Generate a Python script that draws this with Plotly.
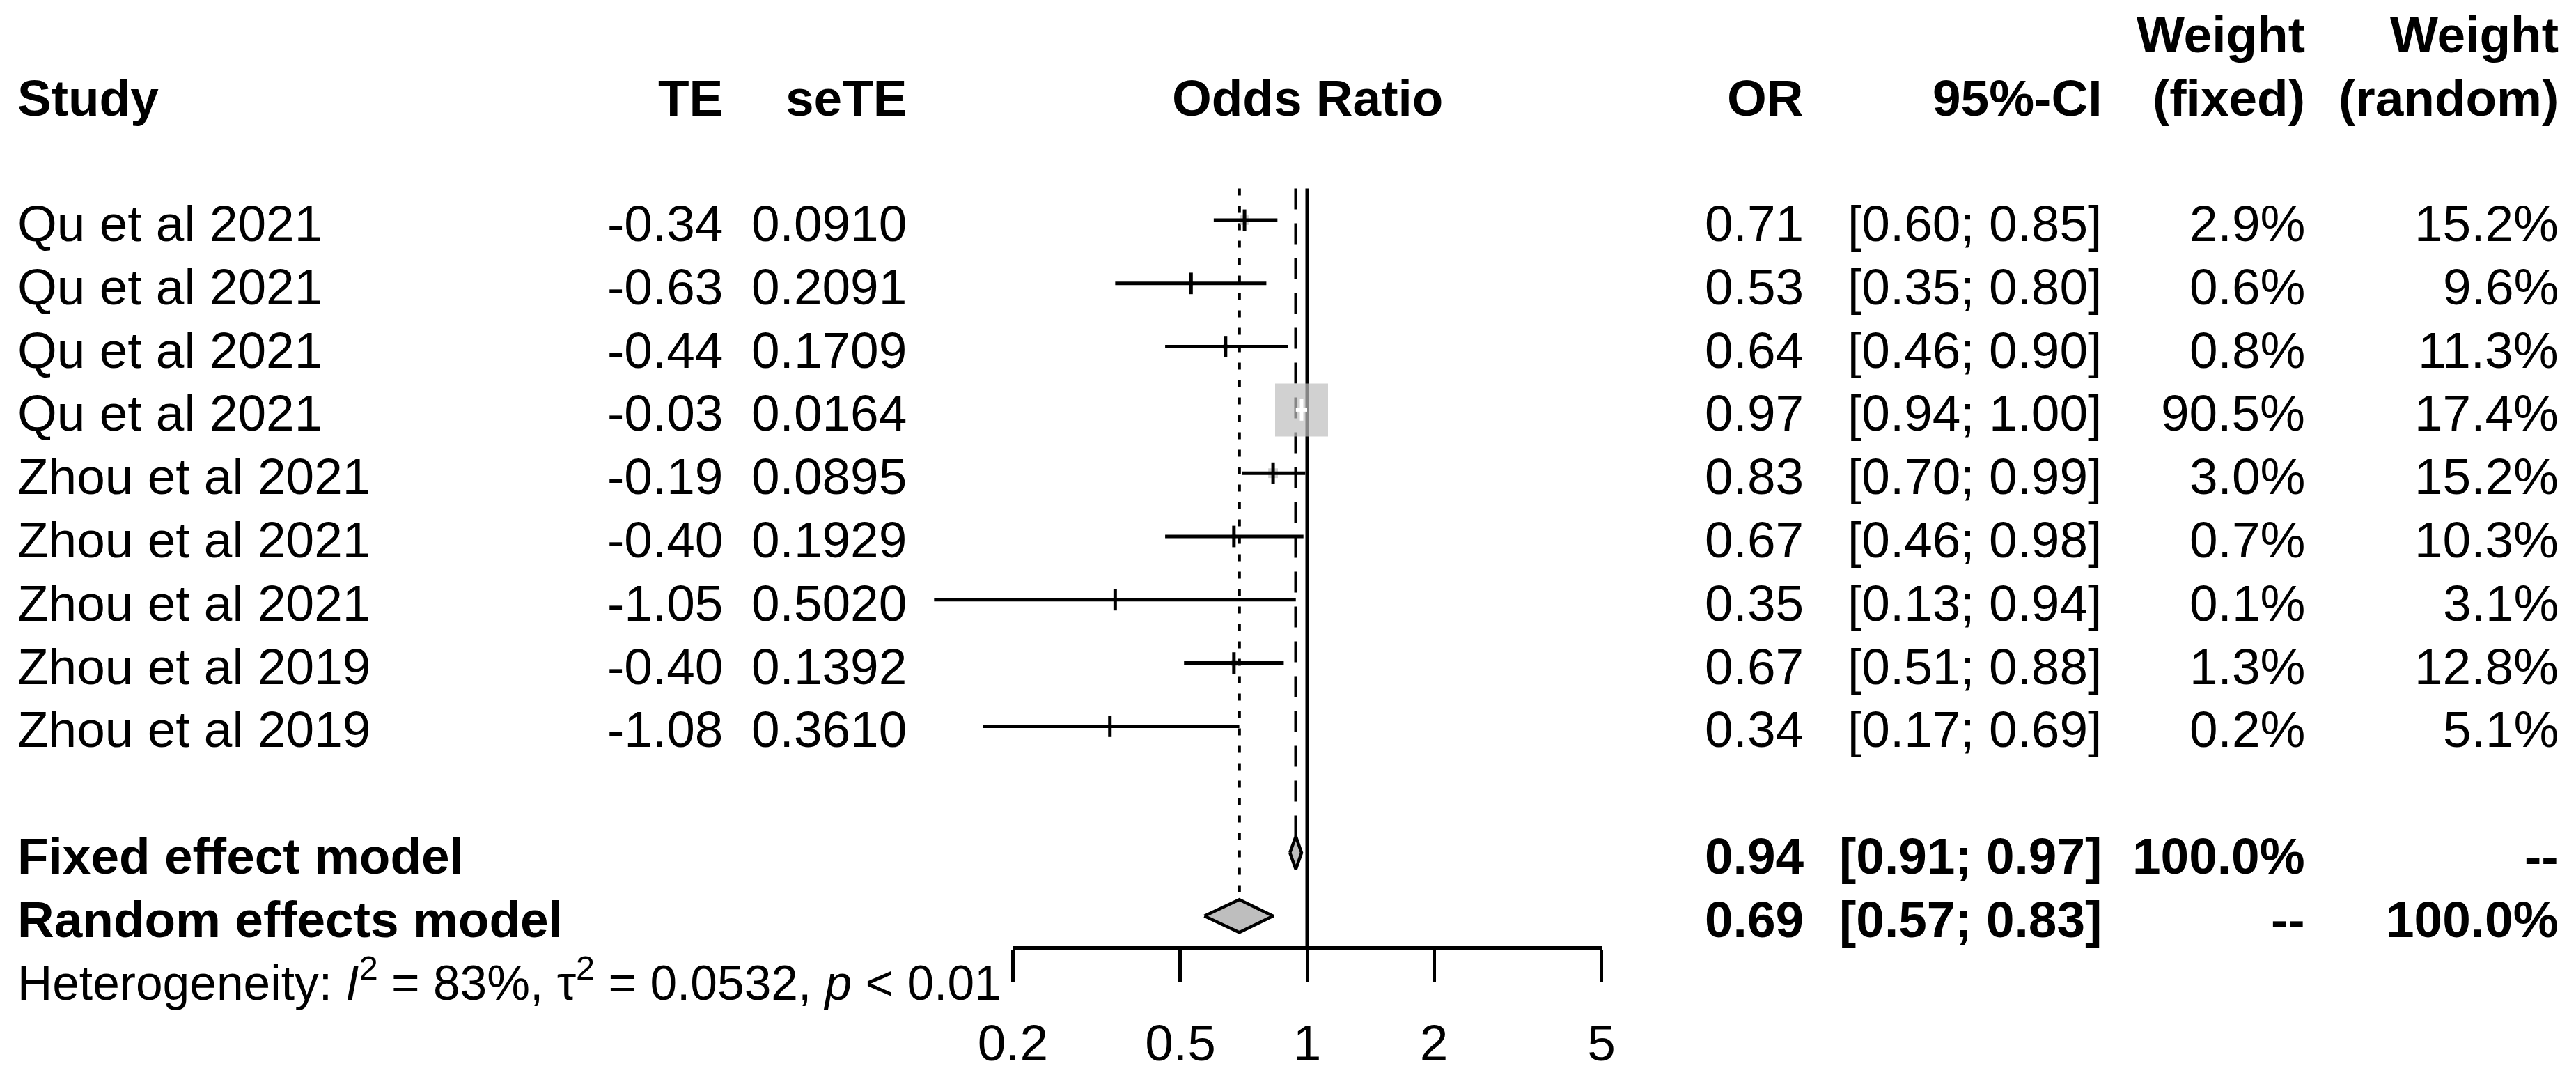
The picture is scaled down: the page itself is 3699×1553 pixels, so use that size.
import math
import plotly.graph_objects as go

# ---------------- data ----------------
studies = ["Qu et al 2021", "Qu et al 2021", "Qu et al 2021", "Qu et al 2021",
           "Zhou et al 2021", "Zhou et al 2021", "Zhou et al 2021",
           "Zhou et al 2019", "Zhou et al 2019"]
te = [-0.34, -0.63, -0.44, -0.03, -0.19, -0.40, -1.05, -0.40, -1.08]
se_te = [0.0910, 0.2091, 0.1709, 0.0164, 0.0895, 0.1929, 0.5020, 0.1392, 0.3610]
odds_ratio = [0.71, 0.53, 0.64, 0.97, 0.83, 0.67, 0.35, 0.67, 0.34]
ci_low = [0.60, 0.35, 0.46, 0.94, 0.70, 0.46, 0.13, 0.51, 0.17]
ci_high = [0.85, 0.80, 0.90, 1.00, 0.99, 0.98, 0.94, 0.88, 0.69]
weight_fixed = [2.9, 0.6, 0.8, 90.5, 3.0, 0.7, 0.1, 1.3, 0.2]
weight_random = [15.2, 9.6, 11.3, 17.4, 15.2, 10.3, 3.1, 12.8, 5.1]

model_names = ["Fixed effect model", "Random effects model"]
model_or = [0.94, 0.69]
model_low = [0.91, 0.57]
model_high = [0.97, 0.83]
model_w_fixed = ["100.0%", "--"]
model_w_random = ["--", "100.0%"]

tick_vals = [0.2, 0.5, 1, 2, 5]
tick_text = ["0.2", "0.5", "1", "2", "5"]

hetero_text = ("Heterogeneity: <i>I</i><sup>2</sup> = 83%, τ<sup>2</sup> = 0.0532, "
               "<i>p</i> &lt; 0.01")

# ---------------- layout constants ----------------
W, H = 3699, 1553
PX_ONE = 1877.0       # pixel x of OR = 1
PX_DEC = 604.6        # pixels per decade
ROW0 = 316.0          # pixel y of first study row
ROWH = 90.8           # pixels per row
FONT = "Liberation Sans, Arial, Helvetica, sans-serif"
FS = 73
FS_HET = 69.5
GREY = "#bebebe"
TXT_DY = 0.05         # small downward shift of text relative to marks
LW = 5

n = len(studies)
rows = list(range(n))
model_rows = [n + 1, n + 2]
axis_row = n + 2.5

def xp(px):
    return px / W

fig = go.Figure()

# reference lines
fig.add_trace(go.Scatter(x=[1, 1], y=[-0.5, axis_row], mode="lines",
                         line=dict(color="black", width=LW), hoverinfo="skip"))
dh = 24.0 / ROWH
fig.add_trace(go.Scatter(x=[model_or[0], model_or[0]], y=[-0.5, model_rows[0] - dh],
                         mode="lines", line=dict(color="black", width=4.5, dash="30px,20px"),
                         hoverinfo="skip"))
fig.add_trace(go.Scatter(x=[model_or[1], model_or[1]], y=[-0.5, model_rows[1] - dh],
                         mode="lines", line=dict(color="black", width=4.5, dash="10px,15px"),
                         hoverinfo="skip"))

# squares (side proportional to sqrt of fixed weight)
wmax = max(weight_fixed)
sizes = [76.0 * math.sqrt(w / wmax) for w in weight_fixed]
fig.add_trace(go.Scatter(x=odds_ratio, y=rows, mode="markers",
                         marker=dict(symbol="square", size=sizes, color=GREY,
                                     line=dict(width=0)),
                         hoverinfo="skip"))

# CI lines and estimate ticks
line_cols = []
for lo, hi, s in zip(ci_low, ci_high, sizes):
    span = (math.log10(hi) - math.log10(lo)) * PX_DEC
    line_cols.append("white" if span < s else "black")

for col in ["black", "white"]:
    xs, ys = [], []
    for i in rows:
        if line_cols[i] == col:
            xs += [ci_low[i], ci_high[i], None]
            ys += [i, i, None]
    if xs:
        fig.add_trace(go.Scatter(x=xs, y=ys, mode="lines",
                                 line=dict(color=col, width=LW), hoverinfo="skip"))

fig.add_trace(go.Scatter(x=odds_ratio, y=rows, mode="markers",
                         marker=dict(symbol="line-ns-open", size=22, color=line_cols,
                                     line=dict(width=LW, color=line_cols)),
                         hoverinfo="skip"))

# diamonds
for k in range(2):
    r = model_rows[k]
    h = 23.5 / ROWH
    fig.add_trace(go.Scatter(
        x=[model_low[k], model_or[k], model_high[k], model_or[k], model_low[k]],
        y=[r, r - h, r, r + h, r], mode="lines", fill="toself",
        fillcolor=GREY, line=dict(color="black", width=4.5), hoverinfo="skip"))

# invisible trace so the tick axis gets its subplot
fig.add_trace(go.Scatter(x=[1], y=[100], xaxis="x2", yaxis="y", mode="markers",
                         marker=dict(opacity=0), hoverinfo="skip"))

# ---------------- text ----------------
ann = []
def add(text, xpx, row, anchor, bold=False, size=FS):
    ann.append(dict(text=f"<b>{text}</b>" if bold else text, x=xp(xpx), xref="paper",
                    y=row + TXT_DY, yref="y", xanchor=anchor, yanchor="middle",
                    showarrow=False, font=dict(family=FONT, size=size, color="black")))

X_STUDY, X_TE, X_SE, X_OR, X_CI, X_WF, X_WR = 23, 1040, 1304, 2592, 3020, 3312, 3676
HDR = -1.98
HDR0 = -2.98

add("Study", X_STUDY, HDR, "left", True)
add("TE", X_TE, HDR, "right", True)
add("seTE", X_SE, HDR, "right", True)
ann.append(dict(text="<b>Odds Ratio</b>", x=math.log10(1), xref="x", y=HDR + TXT_DY,
                yref="y", xanchor="center", yanchor="middle", showarrow=False,
                font=dict(family=FONT, size=FS, color="black")))
add("OR", X_OR, HDR, "right", True)
add("95%-CI", X_CI, HDR, "right", True)
add("Weight", X_WF, HDR0, "right", True)
add("(fixed)", X_WF, HDR, "right", True)
add("Weight", X_WR, HDR0, "right", True)
add("(random)", X_WR, HDR, "right", True)

for i in rows:
    add(studies[i], X_STUDY, i, "left")
    add(f"{te[i]:.2f}", X_TE, i, "right")
    add(f"{se_te[i]:.4f}", X_SE, i, "right")
    add(f"{odds_ratio[i]:.2f}", X_OR, i, "right")
    add(f"[{ci_low[i]:.2f}; {ci_high[i]:.2f}]", X_CI, i, "right")
    add(f"{weight_fixed[i]:.1f}%", X_WF, i, "right")
    add(f"{weight_random[i]:.1f}%", X_WR, i, "right")

for k in range(2):
    r = model_rows[k]
    add(model_names[k], X_STUDY, r, "left", True)
    add(f"{model_or[k]:.2f}", X_OR, r, "right", True)
    add(f"[{model_low[k]:.2f}; {model_high[k]:.2f}]", X_CI, r, "right", True)
    add(model_w_fixed[k], X_WF, r, "right", True)
    add(model_w_random[k], X_WR, r, "right", True)

add(hetero_text, X_STUDY, n + 2.95, "left", False, FS_HET)

# ---------------- axes ----------------
lo_log = math.log10(min(tick_vals))
hi_log = math.log10(max(tick_vals))
fig.update_layout(
    width=W, height=H,
    margin=dict(l=0, r=0, t=0, b=0, pad=0, autoexpand=False),
    paper_bgcolor="white", plot_bgcolor="rgba(0,0,0,0)", showlegend=False,
    annotations=ann,
    xaxis=dict(type="log", domain=[0, 1],
               range=[-PX_ONE / PX_DEC, (W - PX_ONE) / PX_DEC], visible=False),
    yaxis=dict(range=[(H - ROW0) / ROWH, -ROW0 / ROWH], visible=False),
    xaxis2=dict(type="log", anchor="free", side="bottom",
                position=1 - (ROW0 + axis_row * ROWH) / H,
                domain=[xp(PX_ONE + PX_DEC * lo_log), xp(PX_ONE + PX_DEC * hi_log)],
                range=[lo_log, hi_log], showline=True, linewidth=4.5, linecolor="black",
                ticks="outside", ticklen=46, tickwidth=4.5, tickcolor="black",
                tickvals=tick_vals, ticktext=tick_text, showgrid=False, zeroline=False,
                ticklabelstandoff=25,
                tickfont=dict(family=FONT, size=FS, color="black")),
)

fig.write_html("out.html", config={"displayModeBar": False},
               post_script="document.body.style.margin='0';")
